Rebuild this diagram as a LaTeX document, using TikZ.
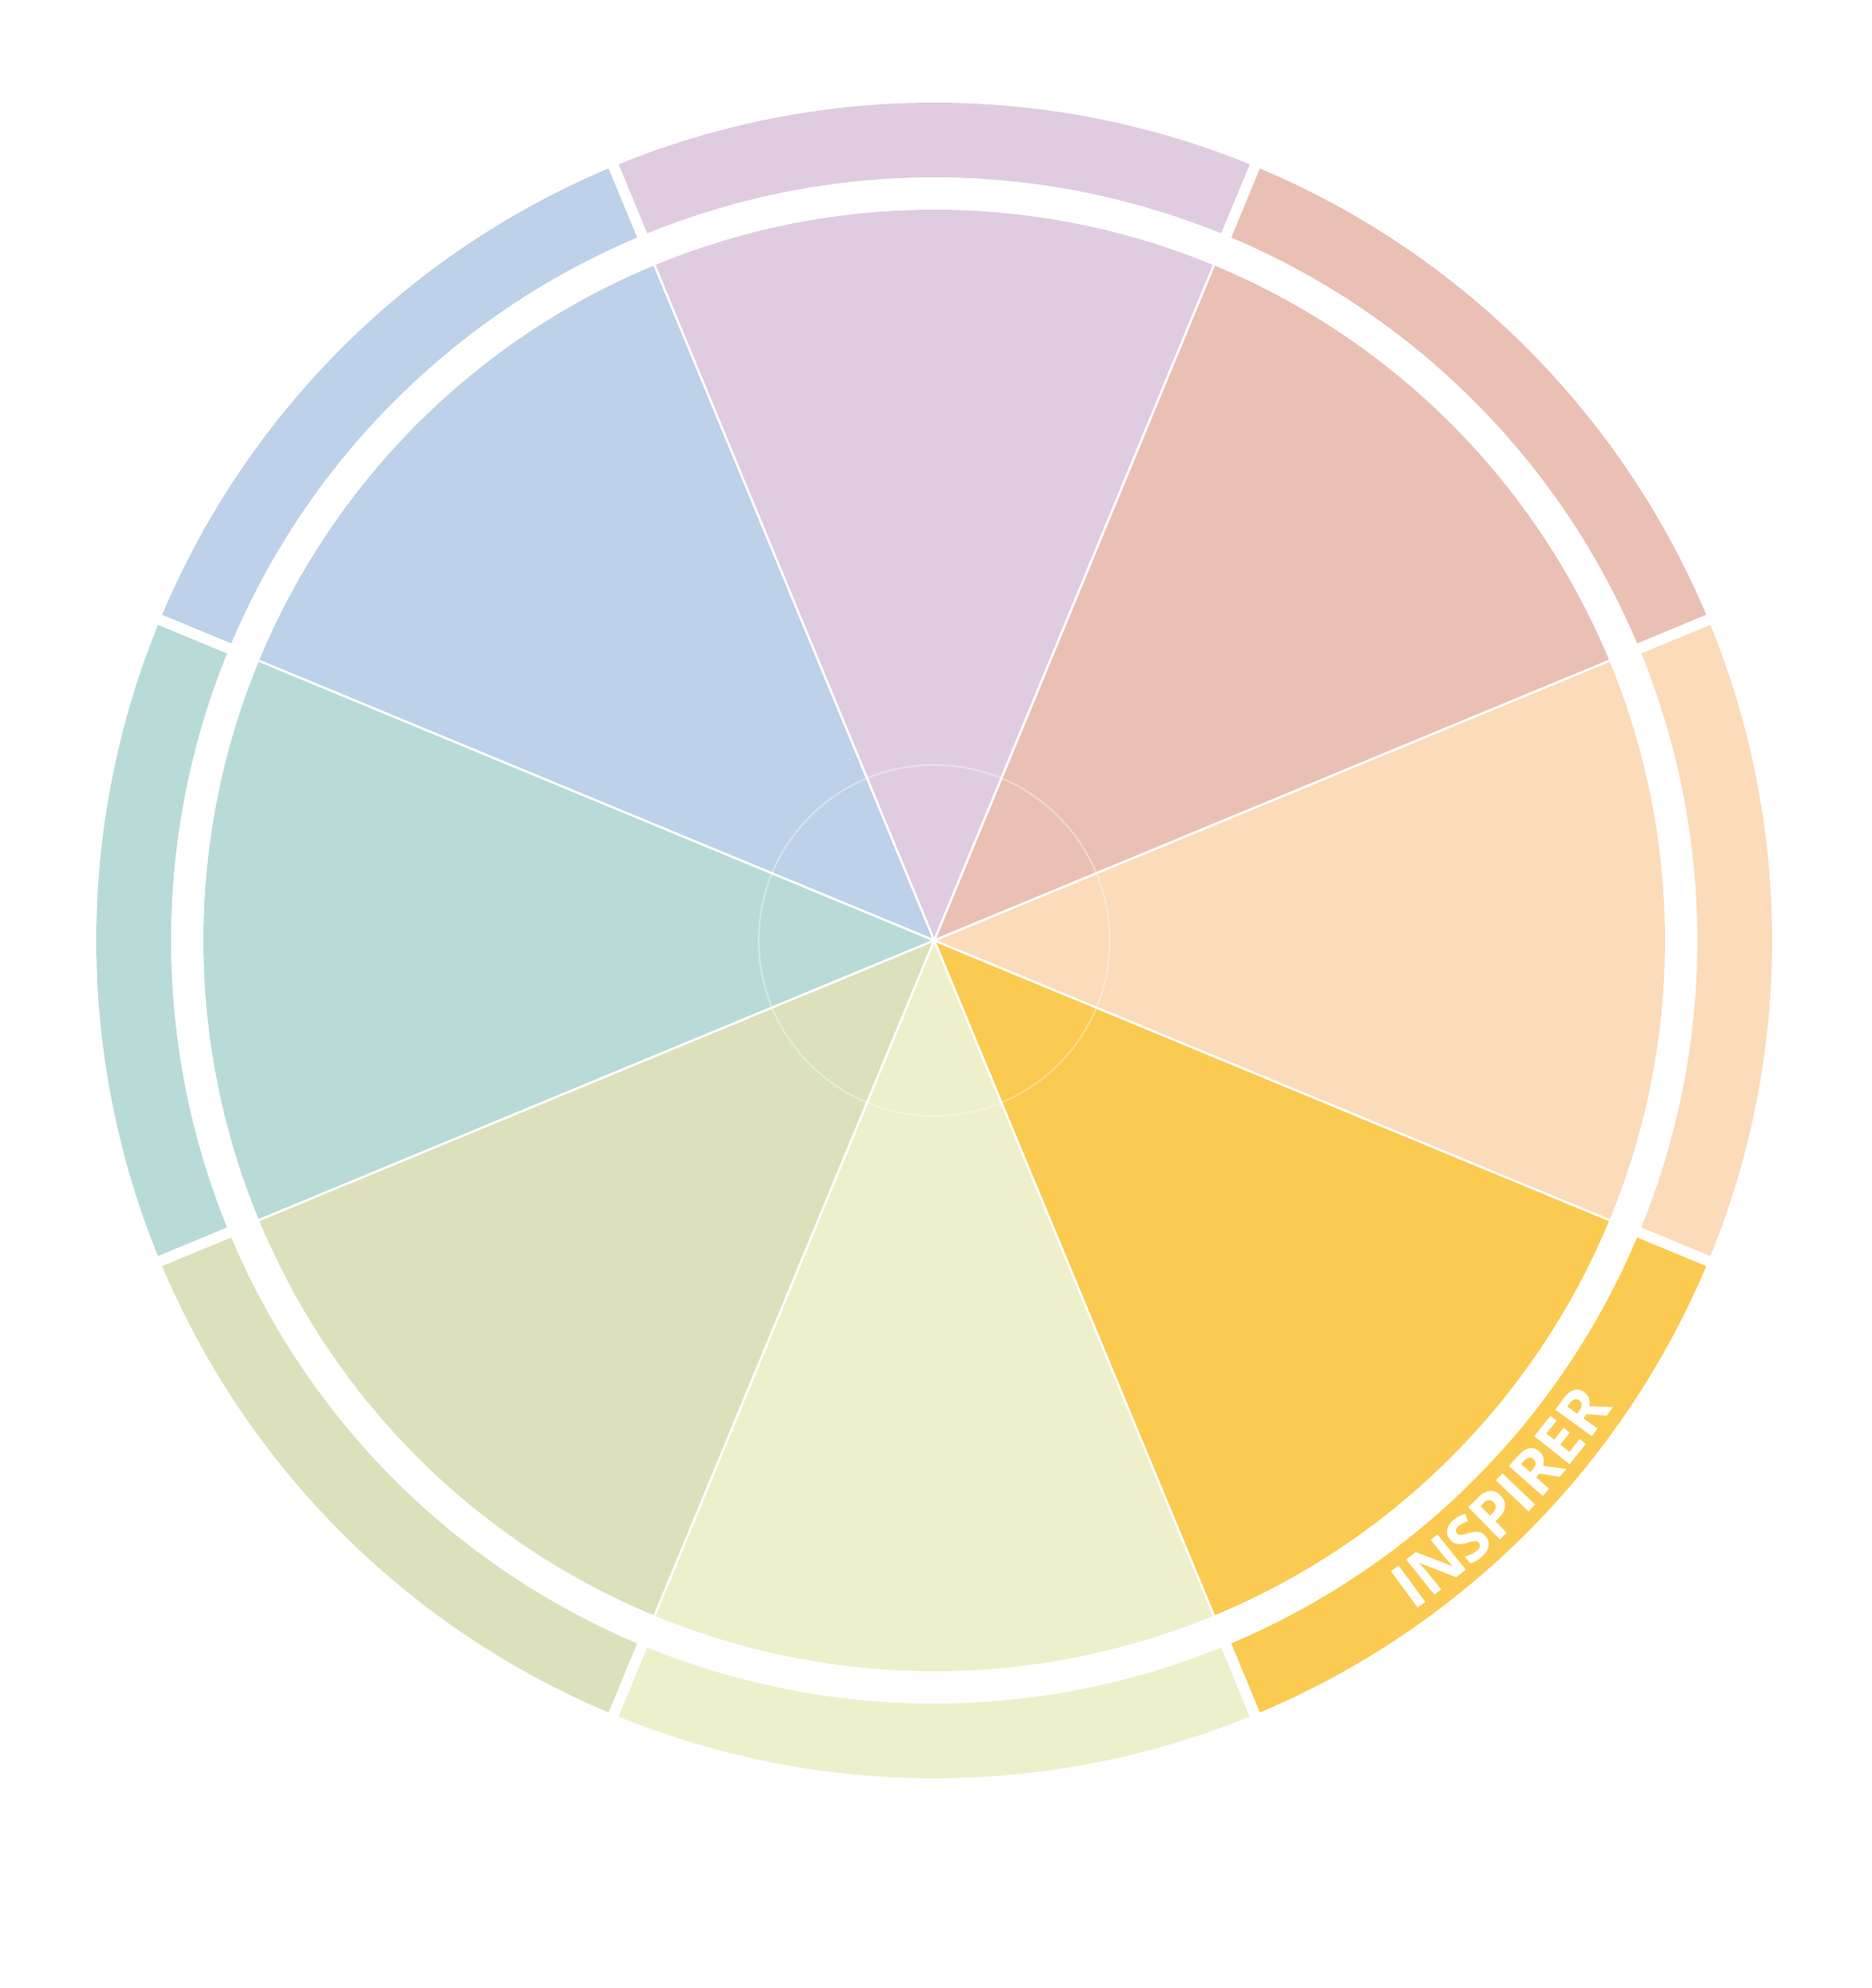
\documentclass[tikz,border=0pt]{standalone}
\usepackage{fontspec}
\newfontfamily\ringfont{Open Sans}
\usetikzlibrary{decorations.text}

\definecolor{wheelLilac}{HTML}{E0CCE1}
\definecolor{wheelRose}{HTML}{EAC0B5}
\definecolor{wheelPeach}{HTML}{FBDBBA}
\definecolor{wheelGold}{HTML}{FBCA50}
\definecolor{wheelCream}{HTML}{EEF0CB}
\definecolor{wheelSage}{HTML}{DCE1BC}
\definecolor{wheelTeal}{HTML}{B8DBD8}
\definecolor{wheelSky}{HTML}{BDD1E8}

\begin{document}
\begin{tikzpicture}[
		divider/.style={draw=white, line width=0.12cm},
		spoke/.style={draw=white, line width=0.025cm},
		hub/.style={draw=white, draw opacity=0.35, line width=0.02cm}]
	\useasboundingbox (-10.38,-11.64) rectangle (10.41,10.45);
	\coordinate (c) at (0,0);
	% ring segments and pie slices
	\foreach \ang/\col in {90/wheelLilac, 45/wheelRose, 0/wheelPeach, -45/wheelGold,
			-90/wheelCream, -135/wheelSage, 180/wheelTeal, 135/wheelSky}{
		\fill[\col] (\ang-22.5:8.48) arc[start angle=\ang-22.5, end angle=\ang+22.5, radius=8.48]
			-- (\ang+22.5:9.31) arc[start angle=\ang+22.5, end angle=\ang-22.5, radius=9.31] -- cycle;
		\fill[\col] (c) -- (\ang-22.5:8.12) arc[start angle=\ang-22.5, end angle=\ang+22.5, radius=8.12] -- cycle;
	}
	\foreach \a in {22.5,67.5,...,337.5}{
		\draw[divider] (\a:8.3) -- (\a:9.5);
		\draw[spoke] (c) -- (\a:8.12);
	}
	\draw[hub] (c) circle[radius=1.95];
	% label on the ring
	\path[decorate, decoration={text along path,
			text={|\ringfont\bfseries\fontsize{20}{20}\selectfont|INSPIRER},
			text color=white, text align=center}]
		(-56.5:9.16) arc[start angle=-56.5, end angle=-32.5, radius=9.16];
\end{tikzpicture}
\end{document}
